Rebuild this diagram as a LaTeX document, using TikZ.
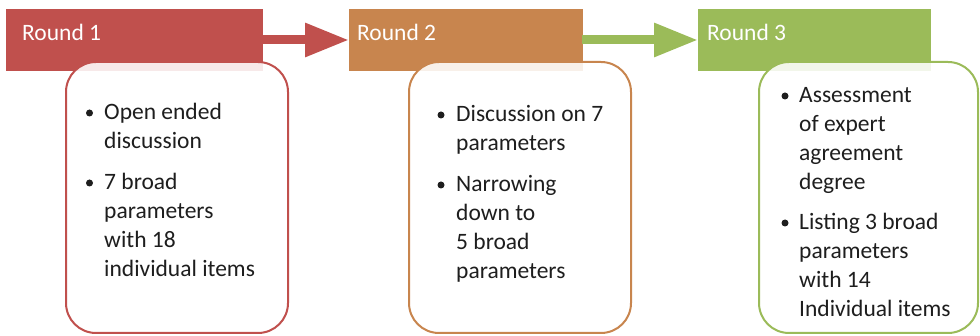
\documentclass[tikz,border=0pt]{standalone}
\usepackage{fontspec}
\setmainfont{Carlito}
\usetikzlibrary{arrows.meta}
\definecolor{cred}{RGB}{192,80,77}
\definecolor{corange}{RGB}{200,133,78}
\definecolor{cgreen}{RGB}{155,187,89}
\definecolor{ctext}{RGB}{30,30,30}
\newcommand{\mylines}[1]{\vtop{\baselineskip=29pt\lineskiplimit=-20pt #1}}
\begin{document}
\begin{tikzpicture}[x=1pt,y=-1pt,
  htext/.style={anchor=base west, text=white, font=\fontsize{23.5}{28}\selectfont, inner sep=0pt},
  card/.style={draw=#1, line width=2pt, fill=white, fill opacity=0.88, text opacity=1, rounded corners=30pt},
  bul/.style={circle, fill=ctext, minimum size=7pt, inner sep=0pt},
  itm/.style={anchor=base west, text=ctext, font=\fontsize{23.5}{29}\selectfont, inner sep=0pt},
  flow/.style={draw=#1, line width=9pt, -{Triangle[length=44pt,width=32pt]}}
]
\useasboundingbox (0,0) rectangle (980,336);
% headers
\path[fill=cred] (6,9) rectangle (263,71);
\path[fill=corange] (349,9) rectangle (583,71);
\path[fill=cgreen] (698,9) rectangle (931,71);
\coordinate (h1e) at (262,40);
\coordinate (h2w) at (349,40);
\coordinate (h2e) at (582,40);
\coordinate (h3w) at (698,40);
\node[htext] (t1) at (22,41) {Round 1};
\node[htext] (t2) at (357,41) {Round 2};
\node[htext] (t3) at (707,41) {Round 3};
% arrows
\draw[flow=cred] (h1e) -- (h2w);
\draw[flow=cgreen] (h2e) -- (h3w);
% cards
\path[card=cred] (66,62) rectangle (288,333);
\path[card=corange] (409,62) rectangle (631,333);
\path[card=cgreen] (759,62) rectangle (978,333);
% card 1 text
\node[bul] (b11) at (89.5,113) {};
\node[itm] (i11) at (104,120) {\mylines{\hbox{Open ended}\hbox{discussion}}};
\node[bul] (b12) at (89.5,183) {};
\node[itm] (i12) at (104,190) {\mylines{\hbox{7 broad}\hbox{parameters}\hbox{with 18}\hbox{individual items}}};
% card 2 text
\node[bul] (b21) at (441,115) {};
\node[itm] (i21) at (456,122) {\mylines{\hbox{Discussion on 7}\hbox{parameters}}};
\node[bul] (b22) at (441,185) {};
\node[itm] (i22) at (456,192) {\mylines{\hbox{Narrowing}\hbox{down to}\hbox{5 broad}\hbox{parameters}}};
% card 3 text
\node[bul] (b31) at (785,96) {};
\node[itm] (i31) at (799,103) {\mylines{\hbox{Assessment}\hbox{of expert}\hbox{agreement}\hbox{degree}}};
\node[bul] (b32) at (785,223) {};
\node[itm] (i32) at (799,230) {\mylines{\hbox{Listing 3 broad}\hbox{parameters}\hbox{with 14}\hbox{Individual items}}};
\end{tikzpicture}
\end{document}
